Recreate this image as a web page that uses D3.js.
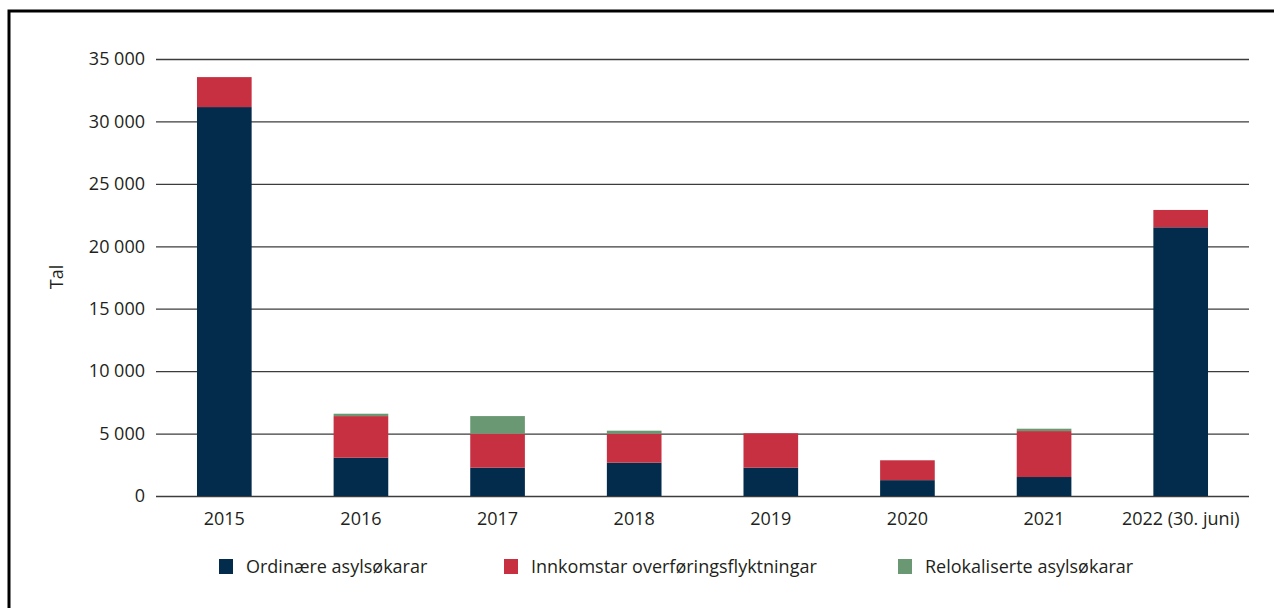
<!DOCTYPE html>
<html>
<head>
<meta charset="utf-8">
<script src="https://cdn.jsdelivr.net/npm/d3@7"></script>
<style>
  body { margin: 0; background: #fff; }
  svg text { font-family: "Open Sans", sans-serif; fill: #231f20; }
</style>
</head>
<body>
<svg id="chart"></svg>
<script>
const W = 1274
const H = 608

const years = ['2015', '2016', '2017', '2018', '2019', '2020', '2021', '2022 (30. juni)']
const ordinaere = [31150, 3070, 2270, 2670, 2270, 1270, 1520, 21520]
const innkomstar = [2400, 3330, 2720, 2320, 2750, 1590, 3680, 1390]
const relokaliserte = [0, 190, 1410, 240, 0, 0, 190, 0]
const seriesNames = ['Ordinære asylsøkarar', 'Innkomstar overføringsflyktningar', 'Relokaliserte asylsøkarar']
const seriesColors = ['#032b4b', '#c63040', '#699872']
const yTicks = [0, 5000, 10000, 15000, 20000, 25000, 30000, 35000]

const margin = { left: 156, right: 25, top: 59, bottom: 112 }

const svg = d3.select('#chart')
  .attr('width', W)
  .attr('height', H)

// frame (only top and left edges visible)
svg.append('path')
  .attr('d', `M9,${H} V11 H${W}`)
  .attr('fill', 'none')
  .attr('stroke', '#000')
  .attr('stroke-width', 3)

const rows = years.map((y, i) => ({
  year: y,
  ord: ordinaere[i],
  inn: innkomstar[i],
  rel: relokaliserte[i]
}))
const keys = ['ord', 'inn', 'rel']
const stacked = d3.stack().keys(keys)(rows)

const x = d3.scaleBand()
  .domain(years)
  .range([margin.left, W - margin.right])
  .paddingInner(0.6)
  .paddingOuter(0.3)

const y = d3.scaleLinear()
  .domain([0, 35000])
  .range([H - margin.bottom, margin.top])

const fmt = v => d3.format(',')(v).replace(/,/g, ' ')

// grid + y labels
const yAxis = svg.append('g')
  .attr('transform', `translate(${margin.left},0)`)
  .call(d3.axisLeft(y).tickValues(yTicks).tickFormat(fmt).tickSize(-(W - margin.right - margin.left)).tickPadding(11))
yAxis.select('.domain').remove()
yAxis.selectAll('.tick line').attr('stroke', '#3c3c3c').attr('stroke-width', 1.3)
yAxis.selectAll('.tick text')
  .attr('font-size', 18)
  .attr('fill', '#231f20')

// bars
svg.append('g')
  .selectAll('g')
  .data(stacked)
  .join('g')
    .attr('fill', (d, i) => seriesColors[i])
  .selectAll('rect')
  .data(d => d)
  .join('rect')
    .attr('x', d => x(d.data.year))
    .attr('width', x.bandwidth())
    .attr('y', d => y(d[1]))
    .attr('height', d => y(d[0]) - y(d[1]))

// x labels
const xAxis = svg.append('g')
  .attr('transform', `translate(0,${H - margin.bottom})`)
  .call(d3.axisBottom(x).tickSize(0).tickPadding(16))
xAxis.select('.domain').remove()
xAxis.selectAll('.tick text')
  .attr('font-size', 18)
  .attr('fill', '#231f20')

// y title
svg.append('text')
  .attr('transform', 'translate(63,277) rotate(-90)')
  .attr('text-anchor', 'middle')
  .attr('font-size', 18)
  .text('Tal')

// legend
const legendX = [219, 504, 898]
const legend = svg.append('g')
  .selectAll('g')
  .data(seriesNames)
  .join('g')
    .attr('transform', (d, i) => `translate(${legendX[i]},559)`)
legend.append('rect')
  .attr('width', 14)
  .attr('height', 15)
  .attr('fill', (d, i) => seriesColors[i])
legend.append('text')
  .attr('x', 27)
  .attr('y', 14)
  .attr('font-size', 18)
  .text(d => d)
</script>
</body>
</html>
